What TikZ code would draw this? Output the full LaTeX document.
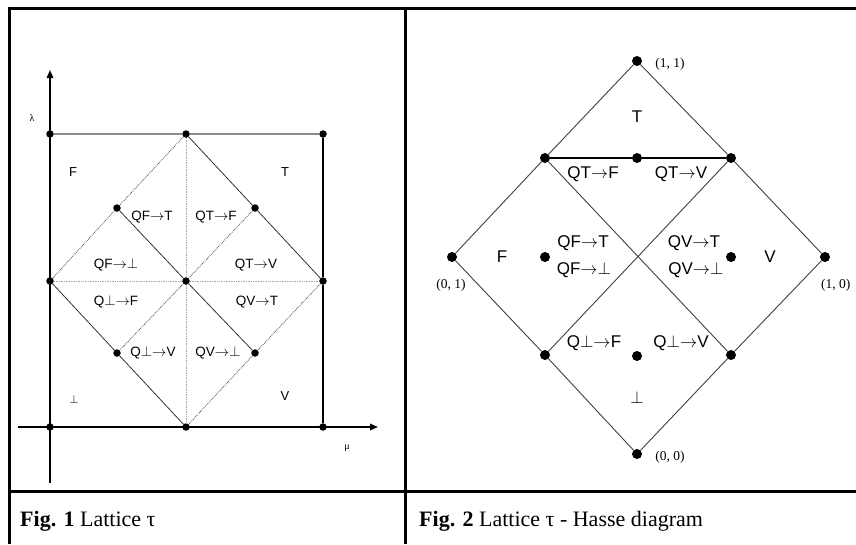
\documentclass[tikz,border=0pt]{standalone}
\usepackage{fontspec}
\setmainfont{Liberation Serif}
\setsansfont{Liberation Sans}
\usetikzlibrary{arrows.meta}
\newcommand{\qto}{\ensuremath{\rightarrow}}
\tikzset{
  latdot/.style={circle, fill=black, inner sep=0pt, minimum size=7.5pt},
  hassedot/.style={circle, fill=black, inner sep=0pt, minimum size=10pt},
  framerule/.style={line width=3pt},
  axisline/.style={line width=1.6pt, -{Triangle[length=8pt,width=6.5pt]}},
  latline/.style={black!80, line width=0.8pt},
  latdotted/.style={black!70, line width=0.8pt, densely dotted},
  midline/.style={black!35, line width=0.7pt, densely dotted},
  hasseline/.style={black!75, line width=0.9pt},
  axislabel/.style={font=\fontsize{10}{11}\selectfont, inner sep=0pt},
  regionlabel/.style={font=\sffamily\fontsize{13}{15}\selectfont, inner sep=0pt},
  smlabel/.style={font=\sffamily\fontsize{13.5}{15}\selectfont, inner sep=0pt},
  biglabel/.style={font=\sffamily\fontsize{17}{20}\selectfont, inner sep=0pt},
  coordlabel/.style={font=\fontsize{13.5}{15}\selectfont, inner sep=0pt},
  caption/.style={font=\fontsize{22}{25}\selectfont, inner sep=0pt, anchor=base west},
}

\begin{document}
\begin{tikzpicture}[x=1pt, y=-1pt]
  \useasboundingbox (0,0) rectangle (856,544);
  % table frame
  \draw[framerule] (9,544) -- (9,8) -- (856,8);
  \draw[framerule] (405,8) -- (405,544);
  \draw[framerule] (9,491) -- (856,491);

  % Fig. 1: lattice in the plane
  \node[latdot] (tl) at (50,134) {};
  \node[latdot] (tm) at (186,134) {};
  \node[latdot] (tr) at (323,134) {};
  \node[latdot] (ml) at (50,281) {};
  \node[latdot] (mc) at (186,281) {};
  \node[latdot] (mr) at (323,281) {};
  \node[latdot] (bl) at (50,427) {};
  \node[latdot] (bm) at (186,427) {};
  \node[latdot] (br) at (323,427) {};
  \node[latdot] (qnw) at (117,208) {};
  \node[latdot] (qne) at (255,208) {};
  \node[latdot] (qsw) at (117,353) {};
  \node[latdot] (qse) at (255,353) {};
  \coordinate (ybot) at (50,483);
  \coordinate (ytop) at (50,70);
  \coordinate (xleft) at (18,427);
  \coordinate (xright) at (378,427);
  \draw[axisline] (ybot) -- (ytop);
  \draw[axisline] (xleft) -- (xright);
  \draw[line width=1.6pt] (tr) -- (mr) -- (br);
  \draw[black!45, line width=1.2pt] (tl) -- (tm) -- (tr);
  \draw[midline] (ml) -- (mc) -- (mr);
  \draw[midline] (tm) -- (mc) -- (bm);
  \draw[latline] (tm) -- (qne) -- (mr);
  \draw[latline] (qnw) -- (mc) -- (qse);
  \draw[latline] (ml) -- (qsw) -- (bm);
  \draw[latdotted] (tm) -- (qnw) -- (ml);
  \draw[latdotted] (qne) -- (mc) -- (qsw);
  \draw[latdotted] (mr) -- (qse) -- (bm);
  \node[axislabel] (lam) at (32,118) {λ};
  \node[axislabel] (mu) at (347,448) {μ};
  \node[regionlabel] (rf) at (73,172) {F};
  \node[regionlabel] (rt) at (285,172) {T};
  \node[regionlabel] (rb) at (74,399) {$\bot$};
  \node[regionlabel] (rv) at (285,396) {V};
  \node[smlabel] (lft) at (152,217) {QF\qto T};
  \node[smlabel] (ltf) at (216,217) {QT\qto F};
  \node[smlabel] (lfb) at (116,265) {QF\qto$\bot$};
  \node[smlabel] (ltv) at (256,265) {QT\qto V};
  \node[smlabel] (lbf) at (116,302) {Q$\bot$\qto F};
  \node[smlabel] (lvt) at (257,302) {QV\qto T};
  \node[smlabel] (lbv) at (153,353) {Q$\bot$\qto V};
  \node[smlabel] (lvb) at (218,353) {QV\qto$\bot$};

  % Fig. 2: Hasse diagram
  \node[hassedot] (top) at (637,61) {};
  \node[hassedot] (ul) at (545,158) {};
  \node[hassedot] (um) at (637,158) {};
  \node[hassedot] (ur) at (731,158) {};
  \node[hassedot] (left) at (452,257) {};
  \node[hassedot] (fdot) at (545,257) {};
  \node[hassedot] (vdot) at (731,257) {};
  \node[hassedot] (right) at (825,257) {};
  \node[hassedot] (ll) at (545,355) {};
  \node[hassedot] (lm) at (637,356) {};
  \node[hassedot] (lr) at (731,355) {};
  \node[hassedot] (bot) at (637,454) {};
  \draw[hasseline] (top) -- (ul) -- (left) -- (ll) -- (bot) -- (lr) -- (right) -- (ur) -- (top);
  \draw[hasseline] (ul) -- (lr);
  \draw[hasseline] (ur) -- (ll);
  \draw[line width=1.8pt] (ul) -- (um) -- (ur);
  \node[coordlabel] (c11) at (670,64) {(1, 1)};
  \node[coordlabel] (c01) at (451,285) {(0, 1)};
  \node[coordlabel, anchor=west] (c10) at (821,285) {(1, 0)};
  \node[coordlabel] (c00) at (670,457) {(0, 0)};
  \node[biglabel] (ht) at (637,117) {T};
  \node[biglabel] (hf) at (502,257) {F};
  \node[biglabel] (hv) at (770,257) {V};
  \node[biglabel] (hb) at (637,397) {$\bot$};
  \node[biglabel] (htf) at (593,174) {QT\qto F};
  \node[biglabel] (htv) at (681,174) {QT\qto V};
  \node[biglabel] (hft) at (583,243) {QF\qto T};
  \node[biglabel] (hfb) at (584,270) {QF\qto$\bot$};
  \node[biglabel] (hvt) at (694,243) {QV\qto T};
  \node[biglabel] (hvb) at (696,270) {QV\qto$\bot$};
  \node[biglabel] (hbf) at (594,343) {Q$\bot$\qto F};
  \node[biglabel] (hbv) at (681,343) {Q$\bot$\qto V};

  % captions
  \node[caption] (cap1) at (20,526) {\textbf{Fig. 1} Lattice τ};
  \node[caption] (cap2) at (419,526) {\textbf{Fig. 2} Lattice τ - Hasse diagram};
\end{tikzpicture}
\end{document}
